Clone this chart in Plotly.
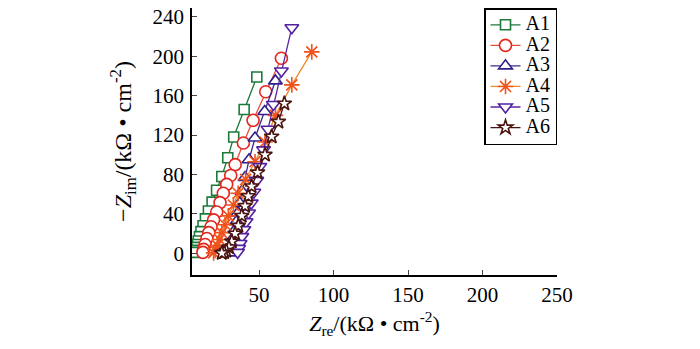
import plotly.graph_objects as go

# Data (Nyquist plot)
a1_x = [48.5, 40, 33, 29, 25, 21.5, 18.5, 16, 14, 12.4, 11, 10, 9.2, 8.7, 8.3, 8.0, 7.8]
a1_y = [179, 146, 118, 97, 78, 64, 52, 43, 35, 28, 22, 17, 12.5, 9, 6, 3, 1]

a2_x = [65, 54.5, 46, 39.5, 34, 31, 28.3, 26, 23.8, 21.6, 19.5, 17.8, 16.3, 15, 13.8, 12.8, 12.3]
a2_y = [198, 164, 135, 112, 90, 79, 70, 61, 51.5, 42, 34, 27, 21, 15, 9, 4, 1]

a3_x = [61, 53.8, 47.3, 43.3, 40.6, 38.5, 37, 35.8, 34.8, 34, 33.3, 32.8, 32.4, 32.1, 31.9]
a3_y = [175, 144, 117, 95, 77, 63, 51, 41, 32, 24, 17, 11, 6, 2.5, 0.5]

a4_x = [85.4, 72, 61, 54, 47.3, 41, 36, 32.8, 29.4, 27.2, 25, 23.5, 22, 20.5, 19.5]
a4_y = [204.5, 171, 140, 113, 93, 75, 61, 49, 38, 29, 21, 14, 8, 3, 0.5]

a5_x = [72, 65, 59.6, 56, 53, 50.5, 48.5, 46.5, 44.8, 43, 41.3, 39.8, 38.5, 37.3, 36.3, 35.6]
a5_y = [229, 185, 151, 126, 105, 88, 74, 62, 51, 41, 32, 24, 17, 10, 5, 1]

a6_x = [67, 63, 58.5, 54, 49, 45, 42.8, 40.6, 38.4, 36.1, 33.9, 31.7, 29.8, 28, 26.5, 25]
a6_y = [152, 133.5, 118.5, 100, 82, 68, 58, 48, 38, 28, 20, 12, 6, 2.5, 1, 0.3]

names = ["A1", "A2", "A3", "A4", "A5", "A6"]
xs = [a1_x, a2_x, a3_x, a4_x, a5_x, a6_x]
ys = [a1_y, a2_y, a3_y, a4_y, a5_y, a6_y]

x_ticks = [50, 100, 150, 200, 250]
y_ticks = [0, 40, 80, 120, 160, 200, 240]

styles = [
    dict(line="#1d7a3a", mline="#1d7a3a", symbol="square", size=10, fill="white"),
    dict(line="#ec4a3a", mline="#e3261c", symbol="circle", size=12, fill="white"),
    dict(line="#3a2a8e", mline="#2f1f8a", symbol="triangle-up", size=12, fill="white"),
    dict(line="#ee8a2a", mline="#f0521c", symbol="asterisk-open", size=13, fill="#f0521c"),
    dict(line="#5a24a6", mline="#5322a0", symbol="triangle-down", size=12, fill="white"),
    dict(line="#4a1410", mline="#4a1410", symbol="star", size=11, fill="white"),
]

font_family = "Liberation Serif, Times New Roman, serif"

fig = go.Figure()
for n, x, y, s in zip(names, xs, ys, styles):
    fig.add_trace(go.Scatter(
        x=x, y=y, mode="lines+markers",
        name='<span style="font-size:20px">' + n + '</span>',
        line=dict(color=s["line"], width=1.3),
        marker=dict(symbol=s["symbol"], size=s["size"], color=s["fill"],
                    line=dict(color=s["mline"], width=1.6)),
    ))

fig.update_layout(
    width=700, height=349,
    margin=dict(l=192, r=143, t=5, b=74),
    paper_bgcolor="white", plot_bgcolor="white",
    font=dict(family=font_family, size=21, color="black"),
    showlegend=True,
    legend=dict(
        x=1, y=1, xanchor="right", yanchor="top",
        bordercolor="black", borderwidth=1.5, bgcolor="white",
        font=dict(family=font_family, size=13.5, color="black"),
        tracegroupgap=0,
    ),
    xaxis=dict(
        range=[5, 250], tickvals=x_ticks, ticks="inside", ticklen=5,
        tickwidth=1.3, showline=True, linecolor="black", linewidth=1.5,
        showgrid=False, zeroline=False, mirror=False,
        tickfont=dict(family=font_family, size=21),
        title=dict(text="<i>Z</i><sub>re</sub>/(kΩ • cm<sup>-2</sup>)",
                   font=dict(family=font_family, size=22), standoff=10),
    ),
    yaxis=dict(
        range=[-22, 249], tickvals=y_ticks, ticks="inside", ticklen=5,
        tickwidth=1.3, showline=True, linecolor="black", linewidth=1.5,
        showgrid=False, zeroline=False, mirror=False,
        ticklabelstandoff=2,
        tickfont=dict(family=font_family, size=21),
        title=dict(text="−<i>Z</i><sub>im</sub>/(kΩ • cm<sup>-2</sup>)",
                   font=dict(family=font_family, size=24), standoff=14),
    ),
)

fig.write_html("out.html")
